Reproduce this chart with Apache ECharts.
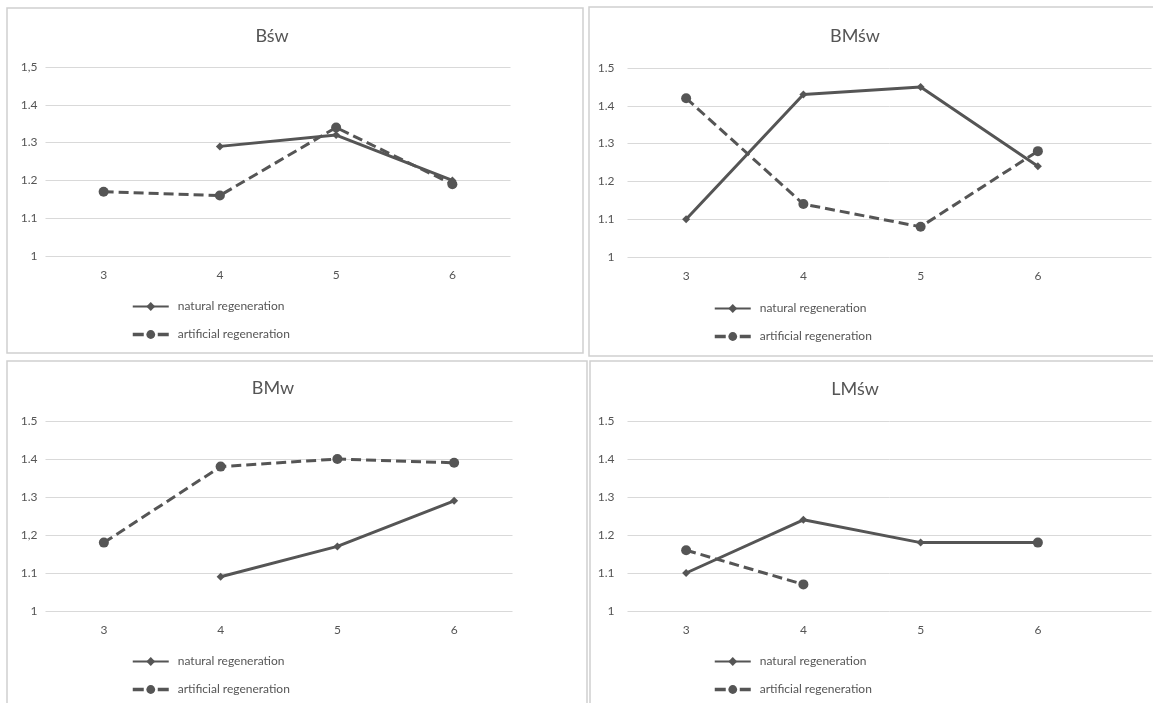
<!DOCTYPE html>
<html>
<head>
<meta charset="utf-8">
<script src="https://cdn.jsdelivr.net/npm/echarts@6/dist/echarts.min.js"></script>
<style>
  html, body { margin: 0; padding: 0; background: #ffffff; }
  #chart { width: 1153px; height: 703px; }
</style>
</head>
<body>
<div id="chart"></div>
<script>
// ---- data ----
const categories = ['3', '4', '5', '6'];
const seriesNames = ['natural regeneration', 'artificial regeneration'];
const titles = ['Bśw', 'BMśw', 'BMw', 'LMśw'];

const bswNatural = [null, 1.29, 1.32, 1.20];
const bswArtificial = [1.17, 1.16, 1.34, 1.19];
const bmswNatural = [1.10, 1.43, 1.45, 1.24];
const bmswArtificial = [1.42, 1.14, 1.08, 1.28];
const bmwNatural = [null, 1.09, 1.17, 1.29];
const bmwArtificial = [1.18, 1.38, 1.40, 1.39];
const lmswNatural = [1.10, 1.24, 1.18, 1.18];
const lmswArtificial = [1.16, 1.07, null, 1.18];

const yLabelsBsw = ['1', '1.1', '1.2', '1.3', '1.4', '1,5'];
const yLabelsBmsw = ['1', '1.1', '1.2', '1.3', '1.4', '1.5'];
const yLabelsBmw = ['1', '1.1', '1,2', '1.3', '1.4', '1.5'];
const yLabelsLmsw = ['1', '1.1', '1.2', '1.3', '1.4', '1.5'];

// ---- layout / style ----
const FONT = 'Lato, "Noto Sans", sans-serif';
const INK = '#555555';
const GRIDC = '#d9d9d9';
const BORDER = '#d0d0d0';

const panels = [
  { nat: bswNatural, art: bswArtificial, ylab: yLabelsBsw, title: titles[0],
    grid: { left: 45.5, top: 67, width: 465, height: 189 }, lineW: 465,
    titleXY: [267, 22], legendXY: [131, 300.5], labelMargin: 8, box: [7, 8, 576, 345] },
  { nat: bmswNatural, art: bmswArtificial, ylab: yLabelsBmsw, title: titles[1],
    grid: { left: 627.5, top: 68, width: 469, height: 189 }, lineW: 524,
    titleXY: [850, 22], legendXY: [713, 302.5], labelMargin: 13, box: [589, 7, 600, 349] },
  { nat: bmwNatural, art: bmwArtificial, ylab: yLabelsBmw, title: titles[2],
    grid: { left: 45.5, top: 421, width: 467, height: 190 }, lineW: 467,
    titleXY: [268, 374], legendXY: [131, 655.5], labelMargin: 8, box: [7, 361, 580, 400] },
  { nat: lmswNatural, art: lmswArtificial, ylab: yLabelsLmsw, title: titles[3],
    grid: { left: 627.5, top: 421, width: 469, height: 190 }, lineW: 524,
    titleXY: [850, 375], legendXY: [713, 655.5], labelMargin: 13, box: [590, 361, 600, 400] }
];

const grids = [], xAxes = [], yAxes = [], series = [], titleArr = [], legends = [], graphics = [];

panels.forEach((p, i) => {
  grids.push(Object.assign({ containLabel: false }, p.grid));
  grids.push({ left: p.grid.left, top: p.grid.top, width: p.lineW, height: p.grid.height });
  const gMain = i * 2, gLines = i * 2 + 1;

  xAxes.push({
    type: 'category', gridIndex: gMain, data: categories, boundaryGap: true,
    axisLine: { show: false }, axisTick: { show: false },
    axisLabel: { color: INK, fontFamily: FONT, fontSize: 12, margin: 13 }
  });
  xAxes.push({ type: 'value', gridIndex: gLines, show: false, min: 0, max: 1 });

  yAxes.push({
    type: 'value', gridIndex: gMain, min: 1, max: 1.5, interval: 0.1,
    axisLine: { show: false }, axisTick: { show: false },
    splitLine: { show: false },
    axisLabel: {
      color: INK, fontFamily: FONT, fontSize: 12, margin: p.labelMargin,
      formatter: (v) => p.ylab[Math.round((v - 1) * 10)]
    }
  });
  yAxes.push({
    type: 'value', gridIndex: gLines, min: 1, max: 1.5, interval: 0.1,
    axisLine: { show: false }, axisTick: { show: false }, axisLabel: { show: false },
    splitLine: { show: true, lineStyle: { color: GRIDC, width: 1 } }
  });

  series.push({
    name: seriesNames[0], type: 'line', xAxisIndex: gMain, yAxisIndex: gMain,
    data: p.nat, symbol: 'diamond', symbolSize: 8, showSymbol: true, showAllSymbol: true,
    connectNulls: false, animation: false, z: 3,
    lineStyle: { color: INK, width: 3, type: 'solid' },
    itemStyle: { color: INK }
  });
  series.push({
    name: seriesNames[1], type: 'line', xAxisIndex: gMain, yAxisIndex: gMain,
    data: p.art, symbol: 'circle', symbolSize: 10, showSymbol: true, showAllSymbol: true,
    connectNulls: false, animation: false, z: 3,
    lineStyle: { color: INK, width: 3, type: [10, 5] },
    itemStyle: { color: INK }
  });

  titleArr.push({
    text: p.title, left: p.titleXY[0], top: p.titleXY[1], textAlign: 'center',
    textStyle: { color: INK, fontFamily: FONT, fontSize: 18, fontWeight: 'normal' }
  });

  legends.push({
    data: [
      { name: seriesNames[0] },
      { name: seriesNames[1], lineStyle: { type: [11, 14], width: 3.5 } }
    ],
    orient: 'vertical', left: p.legendXY[0], top: p.legendXY[1],
    padding: 0, itemWidth: 36, itemHeight: 11, itemGap: 16, selectedMode: false,
    textStyle: { color: INK, fontFamily: FONT, fontSize: 12, padding: [0, 0, 0, 4] }
  });

  graphics.push({
    type: 'rect', silent: true, z: -10,
    shape: { x: p.box[0], y: p.box[1], width: p.box[2], height: p.box[3] },
    style: { fill: 'none', stroke: BORDER, lineWidth: 1.5 }
  });
});

const chart = echarts.init(document.getElementById('chart'), null, { renderer: 'canvas' });
chart.setOption({
  backgroundColor: '#ffffff',
  animation: false,
  title: titleArr,
  legend: legends,
  grid: grids,
  xAxis: xAxes,
  yAxis: yAxes,
  series: series,
  graphic: graphics
});
</script>
</body>
</html>
